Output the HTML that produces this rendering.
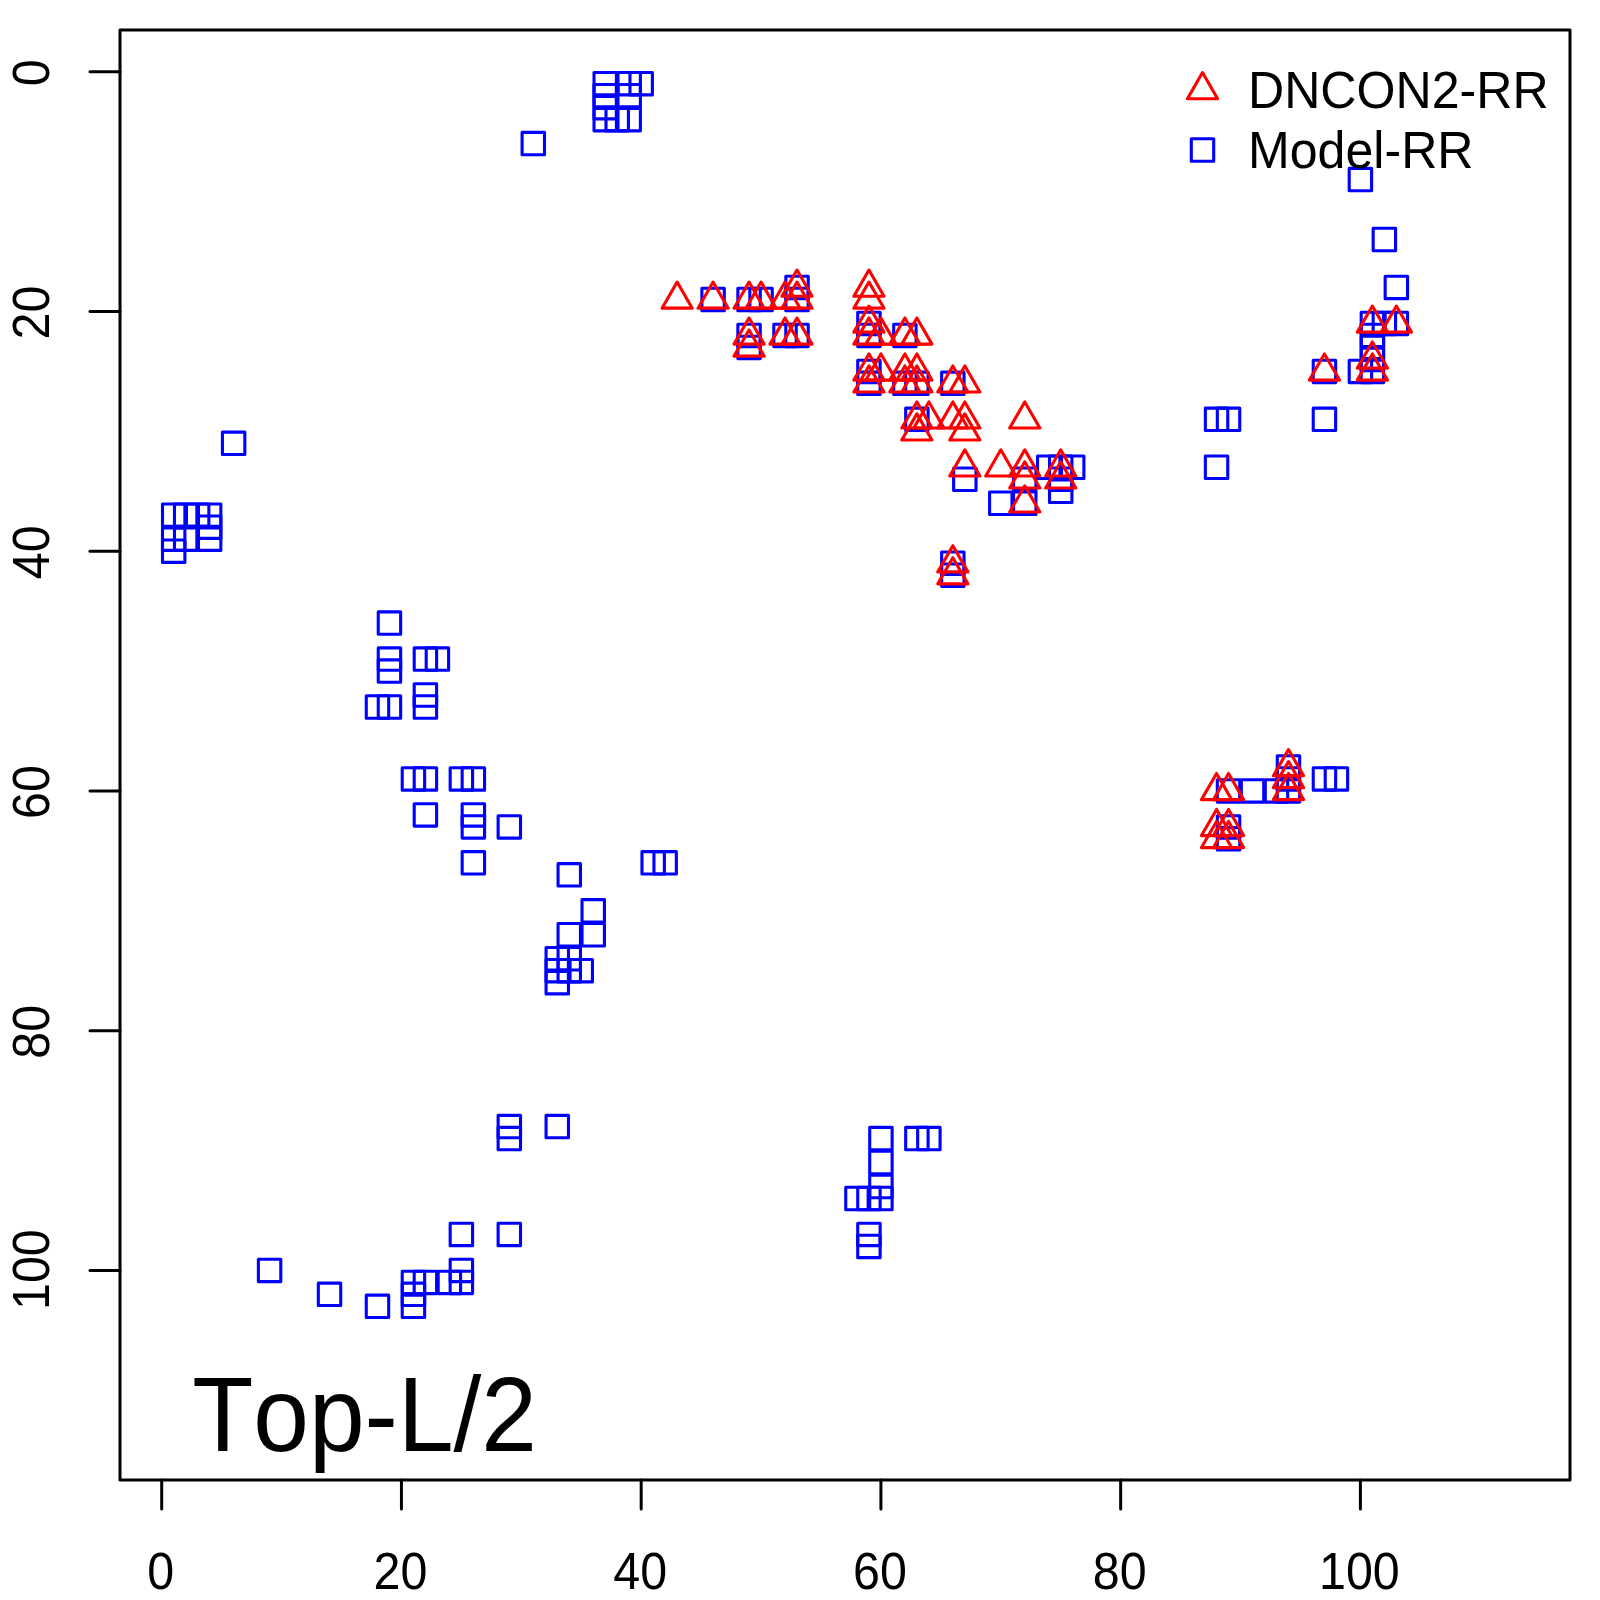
<!DOCTYPE html>
<html><head><meta charset="utf-8"><style>
html,body{margin:0;padding:0;background:#fff;}
svg{display:block;}
text{font-family:"Liberation Sans",sans-serif;font-kerning:none;}
</style></head><body>
<svg width="1600" height="1600" viewBox="0 0 1600 1600">
<rect x="0" y="0" width="1600" height="1600" fill="#fff"/>
<g fill="none" stroke="#000" stroke-width="3.0" stroke-linecap="round" stroke-linejoin="round">
<rect x="120" y="30" width="1450" height="1450"/>
<line x1="161.70" y1="1480" x2="161.70" y2="1509"/>
<line x1="90" y1="71.70" x2="120" y2="71.70"/>
<line x1="401.44" y1="1480" x2="401.44" y2="1509"/>
<line x1="90" y1="311.44" x2="120" y2="311.44"/>
<line x1="641.18" y1="1480" x2="641.18" y2="1509"/>
<line x1="90" y1="551.18" x2="120" y2="551.18"/>
<line x1="880.92" y1="1480" x2="880.92" y2="1509"/>
<line x1="90" y1="790.92" x2="120" y2="790.92"/>
<line x1="1120.66" y1="1480" x2="1120.66" y2="1509"/>
<line x1="90" y1="1030.66" x2="120" y2="1030.66"/>
<line x1="1360.40" y1="1480" x2="1360.40" y2="1509"/>
<line x1="90" y1="1270.40" x2="120" y2="1270.40"/>
</g>
<g font-size="51.5" fill="#000">
<text transform="translate(160.70,1588.8) scale(0.94,1)" text-anchor="middle">0</text>
<text transform="translate(400.44,1588.8) scale(0.94,1)" text-anchor="middle">20</text>
<text transform="translate(640.18,1588.8) scale(0.94,1)" text-anchor="middle">40</text>
<text transform="translate(879.92,1588.8) scale(0.94,1)" text-anchor="middle">60</text>
<text transform="translate(1119.66,1588.8) scale(0.94,1)" text-anchor="middle">80</text>
<text transform="translate(1359.40,1588.8) scale(0.94,1)" text-anchor="middle">100</text>
<text transform="translate(49.3,72.80) rotate(-90) scale(0.94,1)" text-anchor="middle">0</text>
<text transform="translate(49.3,312.54) rotate(-90) scale(0.94,1)" text-anchor="middle">20</text>
<text transform="translate(49.3,552.28) rotate(-90) scale(0.94,1)" text-anchor="middle">40</text>
<text transform="translate(49.3,792.02) rotate(-90) scale(0.94,1)" text-anchor="middle">60</text>
<text transform="translate(49.3,1031.76) rotate(-90) scale(0.94,1)" text-anchor="middle">80</text>
<text transform="translate(49.3,1269.60) rotate(-90) scale(0.94,1)" text-anchor="middle">100</text>
</g>
<g fill="none" stroke="#0000ff" stroke-width="3.1" stroke-linejoin="round">
<rect x="522.10" y="132.42" width="22.40" height="22.40"/>
<rect x="594.02" y="72.49" width="22.40" height="22.40"/>
<rect x="617.99" y="72.49" width="22.40" height="22.40"/>
<rect x="629.98" y="72.49" width="22.40" height="22.40"/>
<rect x="594.02" y="84.47" width="22.40" height="22.40"/>
<rect x="617.99" y="84.47" width="22.40" height="22.40"/>
<rect x="594.02" y="96.46" width="22.40" height="22.40"/>
<rect x="594.02" y="108.45" width="22.40" height="22.40"/>
<rect x="606.01" y="108.45" width="22.40" height="22.40"/>
<rect x="617.99" y="108.45" width="22.40" height="22.40"/>
<rect x="222.42" y="432.10" width="22.40" height="22.40"/>
<rect x="162.49" y="504.02" width="22.40" height="22.40"/>
<rect x="174.47" y="504.02" width="22.40" height="22.40"/>
<rect x="186.46" y="504.02" width="22.40" height="22.40"/>
<rect x="198.45" y="504.02" width="22.40" height="22.40"/>
<rect x="198.45" y="516.01" width="22.40" height="22.40"/>
<rect x="162.49" y="527.99" width="22.40" height="22.40"/>
<rect x="174.47" y="527.99" width="22.40" height="22.40"/>
<rect x="198.45" y="527.99" width="22.40" height="22.40"/>
<rect x="162.49" y="539.98" width="22.40" height="22.40"/>
<rect x="378.25" y="611.90" width="22.40" height="22.40"/>
<rect x="378.25" y="647.86" width="22.40" height="22.40"/>
<rect x="378.25" y="659.85" width="22.40" height="22.40"/>
<rect x="414.21" y="647.86" width="22.40" height="22.40"/>
<rect x="426.20" y="647.86" width="22.40" height="22.40"/>
<rect x="366.27" y="695.81" width="22.40" height="22.40"/>
<rect x="378.25" y="695.81" width="22.40" height="22.40"/>
<rect x="414.21" y="683.82" width="22.40" height="22.40"/>
<rect x="414.21" y="695.81" width="22.40" height="22.40"/>
<rect x="402.23" y="767.73" width="22.40" height="22.40"/>
<rect x="414.21" y="767.73" width="22.40" height="22.40"/>
<rect x="450.18" y="767.73" width="22.40" height="22.40"/>
<rect x="462.16" y="767.73" width="22.40" height="22.40"/>
<rect x="414.21" y="803.69" width="22.40" height="22.40"/>
<rect x="462.16" y="803.69" width="22.40" height="22.40"/>
<rect x="462.16" y="815.68" width="22.40" height="22.40"/>
<rect x="498.12" y="815.68" width="22.40" height="22.40"/>
<rect x="462.16" y="851.64" width="22.40" height="22.40"/>
<rect x="558.06" y="863.63" width="22.40" height="22.40"/>
<rect x="641.97" y="851.64" width="22.40" height="22.40"/>
<rect x="653.95" y="851.64" width="22.40" height="22.40"/>
<rect x="582.03" y="899.59" width="22.40" height="22.40"/>
<rect x="582.03" y="923.56" width="22.40" height="22.40"/>
<rect x="558.06" y="923.56" width="22.40" height="22.40"/>
<rect x="546.07" y="947.54" width="22.40" height="22.40"/>
<rect x="558.06" y="947.54" width="22.40" height="22.40"/>
<rect x="546.07" y="959.52" width="22.40" height="22.40"/>
<rect x="558.06" y="959.52" width="22.40" height="22.40"/>
<rect x="570.04" y="959.52" width="22.40" height="22.40"/>
<rect x="546.07" y="971.51" width="22.40" height="22.40"/>
<rect x="498.12" y="1115.36" width="22.40" height="22.40"/>
<rect x="498.12" y="1127.34" width="22.40" height="22.40"/>
<rect x="546.07" y="1115.36" width="22.40" height="22.40"/>
<rect x="450.18" y="1223.24" width="22.40" height="22.40"/>
<rect x="498.12" y="1223.24" width="22.40" height="22.40"/>
<rect x="258.38" y="1259.20" width="22.40" height="22.40"/>
<rect x="318.32" y="1283.17" width="22.40" height="22.40"/>
<rect x="366.27" y="1295.16" width="22.40" height="22.40"/>
<rect x="402.23" y="1271.19" width="22.40" height="22.40"/>
<rect x="402.23" y="1283.17" width="22.40" height="22.40"/>
<rect x="402.23" y="1295.16" width="22.40" height="22.40"/>
<rect x="414.21" y="1271.19" width="22.40" height="22.40"/>
<rect x="438.19" y="1271.19" width="22.40" height="22.40"/>
<rect x="450.18" y="1271.19" width="22.40" height="22.40"/>
<rect x="450.18" y="1259.20" width="22.40" height="22.40"/>
<rect x="905.68" y="1127.34" width="22.40" height="22.40"/>
<rect x="917.67" y="1127.34" width="22.40" height="22.40"/>
<rect x="869.72" y="1127.34" width="22.40" height="22.40"/>
<rect x="869.72" y="1151.32" width="22.40" height="22.40"/>
<rect x="869.72" y="1175.29" width="22.40" height="22.40"/>
<rect x="869.72" y="1187.28" width="22.40" height="22.40"/>
<rect x="845.75" y="1187.28" width="22.40" height="22.40"/>
<rect x="857.73" y="1187.28" width="22.40" height="22.40"/>
<rect x="857.73" y="1223.24" width="22.40" height="22.40"/>
<rect x="857.73" y="1235.23" width="22.40" height="22.40"/>
<rect x="1217.34" y="779.72" width="22.40" height="22.40"/>
<rect x="1241.32" y="779.72" width="22.40" height="22.40"/>
<rect x="1265.29" y="779.72" width="22.40" height="22.40"/>
<rect x="1277.28" y="779.72" width="22.40" height="22.40"/>
<rect x="1277.28" y="755.75" width="22.40" height="22.40"/>
<rect x="1277.28" y="767.73" width="22.40" height="22.40"/>
<rect x="1313.24" y="767.73" width="22.40" height="22.40"/>
<rect x="1325.23" y="767.73" width="22.40" height="22.40"/>
<rect x="1217.34" y="815.68" width="22.40" height="22.40"/>
<rect x="1217.34" y="827.67" width="22.40" height="22.40"/>
<rect x="1349.20" y="168.38" width="22.40" height="22.40"/>
<rect x="1373.17" y="228.32" width="22.40" height="22.40"/>
<rect x="1385.16" y="276.27" width="22.40" height="22.40"/>
<rect x="1361.19" y="312.23" width="22.40" height="22.40"/>
<rect x="1373.17" y="312.23" width="22.40" height="22.40"/>
<rect x="1385.16" y="312.23" width="22.40" height="22.40"/>
<rect x="1361.19" y="324.21" width="22.40" height="22.40"/>
<rect x="1361.19" y="336.20" width="22.40" height="22.40"/>
<rect x="1361.19" y="348.19" width="22.40" height="22.40"/>
<rect x="1313.24" y="360.18" width="22.40" height="22.40"/>
<rect x="1349.20" y="360.18" width="22.40" height="22.40"/>
<rect x="1361.19" y="360.18" width="22.40" height="22.40"/>
<rect x="1205.36" y="408.12" width="22.40" height="22.40"/>
<rect x="1217.34" y="408.12" width="22.40" height="22.40"/>
<rect x="1313.24" y="408.12" width="22.40" height="22.40"/>
<rect x="1205.36" y="456.07" width="22.40" height="22.40"/>
<rect x="701.90" y="288.25" width="22.40" height="22.40"/>
<rect x="737.86" y="288.25" width="22.40" height="22.40"/>
<rect x="749.85" y="288.25" width="22.40" height="22.40"/>
<rect x="785.81" y="276.27" width="22.40" height="22.40"/>
<rect x="785.81" y="288.25" width="22.40" height="22.40"/>
<rect x="737.86" y="324.21" width="22.40" height="22.40"/>
<rect x="737.86" y="336.20" width="22.40" height="22.40"/>
<rect x="773.82" y="324.21" width="22.40" height="22.40"/>
<rect x="785.81" y="324.21" width="22.40" height="22.40"/>
<rect x="857.73" y="312.23" width="22.40" height="22.40"/>
<rect x="857.73" y="324.21" width="22.40" height="22.40"/>
<rect x="893.69" y="324.21" width="22.40" height="22.40"/>
<rect x="857.73" y="360.18" width="22.40" height="22.40"/>
<rect x="857.73" y="372.16" width="22.40" height="22.40"/>
<rect x="893.69" y="372.16" width="22.40" height="22.40"/>
<rect x="905.68" y="372.16" width="22.40" height="22.40"/>
<rect x="941.64" y="372.16" width="22.40" height="22.40"/>
<rect x="905.68" y="408.12" width="22.40" height="22.40"/>
<rect x="953.63" y="468.06" width="22.40" height="22.40"/>
<rect x="989.59" y="492.03" width="22.40" height="22.40"/>
<rect x="1013.56" y="492.03" width="22.40" height="22.40"/>
<rect x="1013.56" y="468.06" width="22.40" height="22.40"/>
<rect x="1037.54" y="456.07" width="22.40" height="22.40"/>
<rect x="1049.52" y="456.07" width="22.40" height="22.40"/>
<rect x="1061.51" y="456.07" width="22.40" height="22.40"/>
<rect x="1049.52" y="468.06" width="22.40" height="22.40"/>
<rect x="1049.52" y="480.05" width="22.40" height="22.40"/>
<rect x="941.64" y="551.97" width="22.40" height="22.40"/>
<rect x="941.64" y="563.95" width="22.40" height="22.40"/>
<rect x="1191.30" y="138.80" width="22.40" height="22.40"/>
</g>
<g fill="none" stroke="#ff0000" stroke-width="3.1" stroke-linejoin="round">
<path d="M1216.56 773.50L1231.64 799.63L1201.47 799.63Z"/>
<path d="M1228.54 773.50L1243.63 799.63L1213.46 799.63Z"/>
<path d="M1288.48 749.53L1303.56 775.66L1273.39 775.66Z"/>
<path d="M1288.48 761.52L1303.56 787.64L1273.39 787.64Z"/>
<path d="M1288.48 773.50L1303.56 799.63L1273.39 799.63Z"/>
<path d="M1216.56 809.46L1231.64 835.59L1201.47 835.59Z"/>
<path d="M1228.54 809.46L1243.63 835.59L1213.46 835.59Z"/>
<path d="M1216.56 821.45L1231.64 847.58L1201.47 847.58Z"/>
<path d="M1228.54 821.45L1243.63 847.58L1213.46 847.58Z"/>
<path d="M1372.39 306.01L1387.47 332.14L1357.30 332.14Z"/>
<path d="M1396.36 306.01L1411.45 332.14L1381.28 332.14Z"/>
<path d="M1372.39 341.97L1387.47 368.10L1357.30 368.10Z"/>
<path d="M1372.39 353.96L1387.47 380.08L1357.30 380.08Z"/>
<path d="M1324.44 353.96L1339.52 380.08L1309.35 380.08Z"/>
<path d="M677.14 282.04L692.23 308.16L662.06 308.16Z"/>
<path d="M713.10 282.04L728.19 308.16L698.02 308.16Z"/>
<path d="M749.06 282.04L764.15 308.16L733.98 308.16Z"/>
<path d="M761.05 282.04L776.13 308.16L745.97 308.16Z"/>
<path d="M785.02 282.04L800.11 308.16L769.94 308.16Z"/>
<path d="M797.01 270.05L812.10 296.18L781.93 296.18Z"/>
<path d="M797.01 282.04L812.10 308.16L781.93 308.16Z"/>
<path d="M749.06 318.00L764.15 344.12L733.98 344.12Z"/>
<path d="M749.06 329.98L764.15 356.11L733.98 356.11Z"/>
<path d="M785.02 318.00L800.11 344.12L769.94 344.12Z"/>
<path d="M797.01 318.00L812.10 344.12L781.93 344.12Z"/>
<path d="M868.93 270.05L884.02 296.18L853.85 296.18Z"/>
<path d="M868.93 282.04L884.02 308.16L853.85 308.16Z"/>
<path d="M868.93 306.01L884.02 332.14L853.85 332.14Z"/>
<path d="M868.93 318.00L884.02 344.12L853.85 344.12Z"/>
<path d="M880.92 318.00L896.00 344.12L865.84 344.12Z"/>
<path d="M904.89 318.00L919.98 344.12L889.81 344.12Z"/>
<path d="M916.88 318.00L931.97 344.12L901.80 344.12Z"/>
<path d="M868.93 353.96L884.02 380.08L853.85 380.08Z"/>
<path d="M880.92 353.96L896.00 380.08L865.84 380.08Z"/>
<path d="M904.89 353.96L919.98 380.08L889.81 380.08Z"/>
<path d="M916.88 353.96L931.97 380.08L901.80 380.08Z"/>
<path d="M868.93 365.94L884.02 392.07L853.85 392.07Z"/>
<path d="M904.89 365.94L919.98 392.07L889.81 392.07Z"/>
<path d="M916.88 365.94L931.97 392.07L901.80 392.07Z"/>
<path d="M952.84 365.94L967.93 392.07L937.76 392.07Z"/>
<path d="M964.83 365.94L979.91 392.07L949.74 392.07Z"/>
<path d="M916.88 401.91L931.97 428.03L901.80 428.03Z"/>
<path d="M928.87 401.91L943.95 428.03L913.78 428.03Z"/>
<path d="M952.84 401.91L967.93 428.03L937.76 428.03Z"/>
<path d="M964.83 401.91L979.91 428.03L949.74 428.03Z"/>
<path d="M916.88 413.89L931.97 440.02L901.80 440.02Z"/>
<path d="M964.83 413.89L979.91 440.02L949.74 440.02Z"/>
<path d="M1024.76 401.91L1039.85 428.03L1009.68 428.03Z"/>
<path d="M964.83 449.85L979.91 475.98L949.74 475.98Z"/>
<path d="M1000.79 449.85L1015.87 475.98L985.71 475.98Z"/>
<path d="M1024.76 449.85L1039.85 475.98L1009.68 475.98Z"/>
<path d="M1060.72 449.85L1075.81 475.98L1045.64 475.98Z"/>
<path d="M1024.76 461.84L1039.85 487.97L1009.68 487.97Z"/>
<path d="M1060.72 461.84L1075.81 487.97L1045.64 487.97Z"/>
<path d="M1024.76 485.81L1039.85 511.94L1009.68 511.94Z"/>
<path d="M952.84 545.75L967.93 571.88L937.76 571.88Z"/>
<path d="M952.84 557.74L967.93 583.86L937.76 583.86Z"/>
<path d="M1202.50 72.58L1217.58 98.71L1187.42 98.71Z"/>
</g>
<g font-size="51.5" fill="#000">
<text transform="translate(1248,108.2) scale(0.973,1)">DNCON2-RR</text>
<text transform="translate(1248,167.6) scale(0.973,1)">Model-RR</text>
</g>
<text transform="translate(192.2,1451.4) scale(0.944,1)" font-size="106" letter-spacing="0" fill="#000">Top-L/2</text>
</svg>
</body></html>
